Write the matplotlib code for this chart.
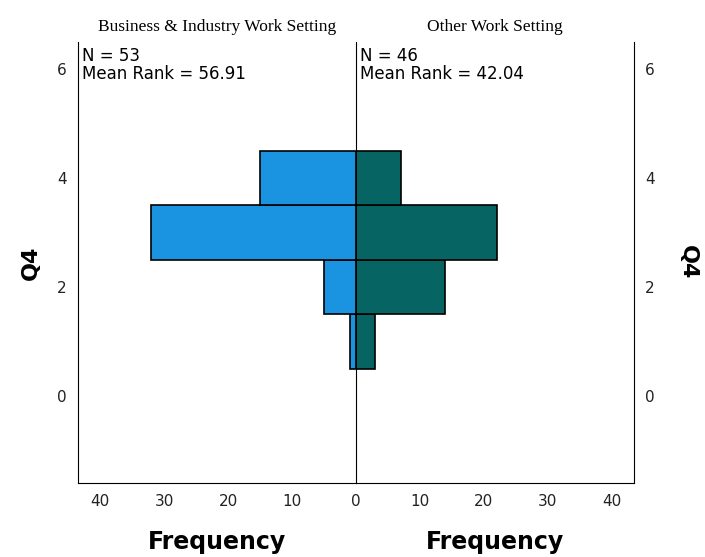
import matplotlib.pyplot as plt

# valores de Q4 e frequências
valores_q4 = [1, 2, 3, 4]
freq_business = [1, 5, 32, 15]
freq_outros = [3, 14, 22, 7]

grupos = ["Business & Industry Work Setting", "Other Work Setting"]
n_grupos = [53, 46]
mean_rank = [56.91, 42.04]

cor_esq = "#1a94e0"
cor_dir = "#066462"

fig = plt.figure(figsize=(7.05, 5.57), dpi=100)
ax_esq = fig.add_axes([78 / 705, 74 / 557, 278 / 705, 441 / 557])
ax_dir = fig.add_axes([356 / 705, 74 / 557, 278 / 705, 441 / 557])
ax_dir.patch.set_alpha(0)

ax_esq.barh(valores_q4, freq_business, height=1.0, color=cor_esq,
            edgecolor="black", linewidth=1.2)
ax_dir.barh(valores_q4, freq_outros, height=1.0, color=cor_dir,
            edgecolor="black", linewidth=1.2)

for ax in (ax_esq, ax_dir):
    ax.set_xlim(0, 43.5)
    ax.set_ylim(-1.6, 6.5)
    ax.set_yticks([0, 2, 4, 6])
    ax.spines["top"].set_visible(False)
    ax.tick_params(length=0, labelsize=11, pad=8, labelcolor="#222222")
    ax.set_xlabel("Frequency", fontsize=17, fontweight="bold", labelpad=15)

ax_esq.set_xticks([0, 10, 20, 30, 40])
ax_dir.set_xticks([10, 20, 30, 40])
ax_esq.invert_xaxis()
ax_esq.set_ylabel("Q4", fontsize=16, fontweight="bold", labelpad=12)
ax_dir.spines["left"].set_visible(False)
ax_dir.yaxis.tick_right()
ax_dir.yaxis.set_label_position("right")
ax_dir.set_ylabel("Q4", fontsize=16, fontweight="bold", rotation=270, labelpad=31)

# linha central por cima das barras
ax_dir.axvline(0, color="black", linewidth=1.2, zorder=5)

# títulos de cada lado
for ax, grupo, n, mr in zip((ax_esq, ax_dir), grupos, n_grupos, mean_rank):
    ax.text(0.5, 1.017, grupo, transform=ax.transAxes, ha="center", va="bottom",
            fontsize=12.5, family="Liberation Serif")
    ax.text(0.013, 0.988, f"N = {n}\nMean Rank = {mr:.2f}",
            transform=ax.transAxes, ha="left", va="top", fontsize=12,
            linespacing=0.98, zorder=6)

fig.savefig("out.png", dpi=100)
